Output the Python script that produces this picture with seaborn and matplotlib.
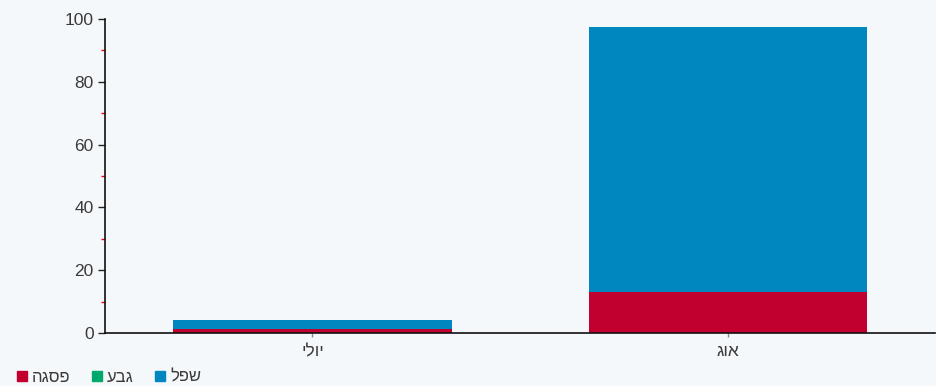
import pandas as pd
import seaborn as sns
import matplotlib.pyplot as plt
from matplotlib.ticker import MultipleLocator
from matplotlib.lines import Line2D

# data
months = ["יולי", "אוג"]
peak = [1.3, 13.1]      # פסגה
ridge = [0.0, 0.0]      # גבע
low = [2.8, 84.4]       # שפל

series_names = ["פסגה", "גבע", "שפל"]
colors = {"פסגה": "#c20030", "גבע": "#00a86b", "שפל": "#0087c0"}


def rtl(s):
    # matplotlib 3.10 has no bidi support, so flip hebrew strings for display
    return s[::-1]


df = pd.DataFrame({"month": [rtl(m) for m in months], "peak": peak, "ridge": ridge, "low": low})
df["top_ridge"] = df["peak"] + df["ridge"]
df["top_low"] = df["top_ridge"] + df["low"]

sns.set_theme(style="white")
plt.rcParams["font.family"] = ["Liberation Sans", "DejaVu Sans"]

bg = "#f5f8fa"
fig = plt.figure(figsize=(9.37, 3.86), dpi=100, facecolor=bg)
ax = fig.add_axes([0.112, 0.137, 0.886, 0.814])
ax.set_facecolor(bg)

# stacked bars: draw the cumulative totals from the top down
bar_kw = dict(x="month", width=0.67, saturation=1, linewidth=0, ax=ax)
sns.barplot(data=df, y="top_low", color=colors["שפל"], **bar_kw)
sns.barplot(data=df, y="top_ridge", color=colors["גבע"], **bar_kw)
sns.barplot(data=df, y="peak", color=colors["פסגה"], **bar_kw)

ax.set_xlim(-0.5, 1.5)
ax.set_ylim(0, 100)
ax.set_xlabel("")
ax.set_ylabel("")

ax.yaxis.set_major_locator(MultipleLocator(20))
ax.yaxis.set_minor_locator(MultipleLocator(10))
ax.tick_params(axis="y", which="major", left=True, length=5, width=1, color="#222222",
               labelsize=12.5, labelcolor="#3a3a3a", pad=3)
ax.tick_params(axis="y", which="minor", left=True, length=3, width=1, color="red")
ax.tick_params(axis="x", bottom=True, length=3, width=1, color="#888888",
               labelsize=12.5, labelcolor="#3a3a3a", pad=5)

for s in ["top", "right"]:
    ax.spines[s].set_visible(False)
for s in ["left", "bottom"]:
    ax.spines[s].set_color("#111111")
    ax.spines[s].set_linewidth(1.2)

handles = [Line2D([], [], marker="s", linestyle="", markersize=7, color=colors[n]) for n in series_names]
fig.legend(handles, [rtl(n) for n in series_names], loc="lower left", bbox_to_anchor=(0.0, -0.035),
           ncol=3, frameon=False, fontsize=12, handletextpad=0.2, columnspacing=1.2,
           handlelength=0.8, labelcolor="#3a3a3a")

plt.savefig("out.png", dpi=100, facecolor=bg)
